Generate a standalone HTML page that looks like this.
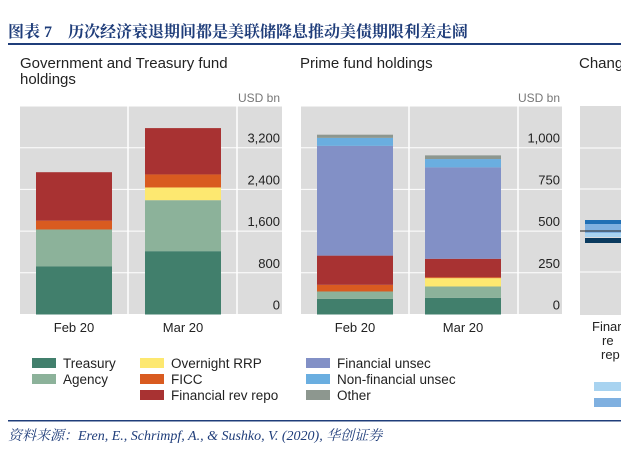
<!DOCTYPE html>
<html><head><meta charset="utf-8"><style>
body{margin:0;width:621px;height:446px;background:#fff;overflow:hidden;font-family:"Liberation Sans","Noto Sans CJK SC",sans-serif;}
svg text{font-family:"Liberation Sans","Noto Sans CJK SC",sans-serif;}
svg text.serif{font-family:"Liberation Serif","Noto Serif CJK SC",serif;}
</style></head><body>
<svg id="c" width="621" height="446">
<text class="serif" x="8" y="37" font-size="16" font-weight="bold" fill="#1f3d7a">图表 7　历次经济衰退期间都是美联储降息推动美债期限利差走阔</text>
<rect x="8" y="43" width="613" height="2" fill="#1f3d7a"/>
<text x="20" y="68" font-size="15" fill="#222">Government and Treasury fund</text>
<text x="20" y="84" font-size="15" fill="#222">holdings</text>
<text x="300" y="68" font-size="15" fill="#222">Prime fund holdings</text>
<text x="579" y="68" font-size="15" fill="#222">Chang</text>
<g id="p1"></g><g id="p2"></g>
<g>
<rect x="580" y="106" width="41" height="209" fill="#dcdcdc"/>
<line x1="580" x2="621" y1="148" y2="148" stroke="#fff"/><line x1="580" x2="621" y1="189" y2="189" stroke="#fff"/>
<line x1="580" x2="621" y1="231" y2="231" stroke="#fff"/><line x1="580" x2="621" y1="272" y2="272" stroke="#fff"/>
<rect x="585" y="220" width="36" height="4" fill="#1f6fb5"/>
<rect x="585" y="224" width="36" height="9" fill="#7fb0e0"/>
<rect x="585" y="233" width="36" height="4" fill="#a8d3f0"/>
<rect x="585" y="238" width="36" height="5" fill="#0a3a5e"/>
<line x1="580" x2="621" y1="231" y2="231" stroke="#222" stroke-width="1"/>
<text x="592" y="331" font-size="13" fill="#222">Finar</text>
<text x="602" y="345" font-size="13" fill="#222">re</text>
<text x="601" y="359" font-size="13" fill="#222">rep</text>
<rect x="594" y="382" width="27" height="9" fill="#a8d3f0"/>
<rect x="594" y="398" width="27" height="9" fill="#7fb0e0"/>
</g>
<g id="leg"></g>
<rect x="8" y="420" width="613" height="1.5" fill="#1f3d7a"/>
<text class="serif" x="8" y="440" font-size="14" font-style="italic" fill="#1f3d7a">资料来源：Eren, E., Schrimpf, A., &amp; Sushko, V. (2020),  华创证券</text>
</svg>
<script>
const categories=["Feb 20","Mar 20"];
const seriesNames=["Treasury","Agency","Overnight RRP","FICC","Financial rev repo","Financial unsec","Non-financial unsec","Other"];
const govTreasury=[921,1215],govAgency=[710,978],govRRP=[0,244],govFICC=[169,250],govRevRepo=[930,889];
const primeTreasury=[94,100],primeAgency=[44,68],primeRRP=[0,50],primeFICC=[40,6],primeRevRepo=[175,110],primeFinUnsec=[658,548],primeNonFin=[48,50],primeOther=[19,22];
const govTicks=[0,800,1600,2400,3200],primeTicks=[0,250,500,750,1000];
const colors=["#417f6c","#8cb29a","#fde870","#d95b20","#a83232","#8290c6","#6aaee0","#8d978f"];
const NS="http://www.w3.org/2000/svg";
function mk(p,t,a){const e=document.createElementNS(NS,t);for(const k in a)e.setAttribute(k,a[k]);p.appendChild(e);return e;}
function panel(g,x0,x1,vl,vmax,ticks,series,bx,tag){
  const y0=314.5,yt=106.5;const y=v=>y0-(v/vmax)*(y0-yt);
  const bg=mk(g,'rect',{x:x0,y:yt,width:x1-x0,height:y0-yt,fill:'#dcdcdc'});
  
  
  ticks.forEach(t=>{mk(g,'line',{x1:x0,x2:x1,y1:y(t),y2:y(t),stroke:'#fff','stroke-width':1});
    const tx=mk(g,'text',{x:x1-2,y:y(t)-5,'font-size':13,fill:'#222','text-anchor':'end'});tx.textContent=t.toLocaleString('en-US');
    
    });
  vl.forEach(v=>mk(g,'line',{x1:v,x2:v,y1:yt,y2:y0,stroke:'#fff','stroke-width':1.5}));
  const u=mk(g,'text',{x:x1-2,y:102,'font-size':12,fill:'#777','text-anchor':'end'});u.textContent='USD bn';
  
  
  categories.forEach((c,i)=>{let cum=0;
    series.forEach(([arr,ci])=>{const v=arr[i];if(v<=0)return;
      const r=mk(g,'rect',{x:bx[i],y:y(cum+v),width:76,height:y(cum)-y(cum+v),fill:colors[ci]});
      
      cum+=v;});
    const l=mk(g,'text',{x:bx[i]+38,y:332,'font-size':13,fill:'#222','text-anchor':'middle'});l.textContent=c;
    
    });
}
panel(document.getElementById('p1'),20,282,[128,237],3200*(314.5-106.5)/(314.5-147.7),govTicks,
 [[govTreasury,0],[govAgency,1],[govRRP,2],[govFICC,3],[govRevRepo,4]],[36,145],'gov');
panel(document.getElementById('p2'),301,562,[409,518],1000*(314.5-106.5)/(314.5-147.7),primeTicks,
 [[primeTreasury,0],[primeAgency,1],[primeRRP,2],[primeFICC,3],[primeRevRepo,4],[primeFinUnsec,5],[primeNonFin,6],[primeOther,7]],[317,425],'prime');
const leg=document.getElementById('leg');
const legPos=[[32,363,0],[32,379,1],[140,363,2],[140,379,3],[140,395,4],[306,363,5],[306,379,6],[306,395,7]];
legPos.forEach(([x,yy,ci])=>{
  const r=mk(leg,'rect',{x:x,y:yy-5,width:24,height:10,fill:colors[ci]});
  
  
  const t=mk(leg,'text',{x:x+31,y:yy+5,'font-size':13.5,fill:'#222'});t.textContent=seriesNames[ci];
  
  
});
</script>
</body></html>
